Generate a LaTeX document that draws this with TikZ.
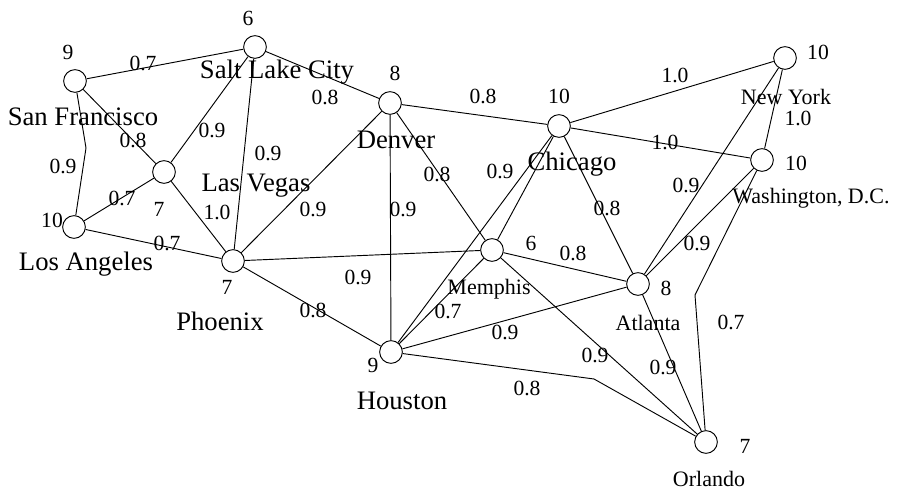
\documentclass[tikz,border=0pt]{standalone}
\usepackage{fontspec}
\setmainfont{Liberation Serif}
\begin{document}
\begin{tikzpicture}[x=0.75pt,y=-0.75pt,
  city/.style={circle,draw,line width=0.7pt,minimum size=17pt,inner sep=0pt},
  road/.style={line width=0.7pt},
  bigname/.style={inner sep=0pt,font=\fontsize{20}{22}\selectfont},
  smallname/.style={inner sep=0pt,font=\fontsize{16.5}{18}\selectfont},
  weight/.style={inner sep=0pt,font=\fontsize{16.2}{18}\selectfont},
  score/.style={inner sep=0pt,font=\fontsize{16.2}{18}\selectfont}]
\useasboundingbox (0,0) rectangle (897,491);

% cities
\node[city] (sf)  at (75,81)   {};
\node[city] (slc) at (255,47)  {};
\node[city] (lv)  at (164,172) {};
\node[city] (la)  at (74,227)  {};
\node[city] (phx) at (233,261) {};
\node[city] (den) at (390,103) {};
\node[city] (chi) at (559,126) {};
\node[city] (ny)  at (785,58)  {};
\node[city] (dc)  at (762,160) {};
\node[city] (mem) at (492,250) {};
\node[city] (atl) at (638,284) {};
\node[city] (hou) at (391,352) {};
\node[city] (orl) at (706,442) {};

% bend points of the routed roads
\coordinate (bsfla)  at (86,148);
\coordinate (bhouorl) at (594,379);
\coordinate (bdcorl) at (695,295);

% roads
\draw[road] (sf) -- (slc);
\draw[road] (sf) -- (lv);
\draw[road] (sf) -- (bsfla) -- (la);
\draw[road] (slc) -- (lv);
\draw[road] (slc) -- (phx);
\draw[road] (slc) -- (den);
\draw[road] (lv) -- (la);
\draw[road] (lv) -- (phx);
\draw[road] (la) -- (phx);
\draw[road] (phx) -- (den);
\draw[road] (phx) -- (mem);
\draw[road] (phx) -- (hou);
\draw[road] (den) -- (chi);
\draw[road] (den) -- (hou);
\draw[road] (den) -- (mem);
\draw[road] (chi) -- (ny);
\draw[road] (chi) -- (dc);
\draw[road] (chi) -- (hou);
\draw[road] (chi) -- (mem);
\draw[road] (chi) -- (atl);
\draw[road] (mem) -- (atl);
\draw[road] (mem) -- (orl);
\draw[road] (mem) -- (hou);
\draw[road] (hou) -- (atl);
\draw[road] (hou) -- (bhouorl) -- (orl);
\draw[road] (atl) -- (ny);
\draw[road] (atl) -- (dc);
\draw[road] (atl) -- (orl);
\draw[road] (dc) -- (ny);
\draw[road] (dc) -- (bdcorl) -- (orl);

% road weights
\node[weight] (w1)  at (143,63)  {0.7};
\node[weight] (w2)  at (133,140) {0.8};
\node[weight] (w3)  at (63,166)  {0.9};
\node[weight] (w4)  at (122,198) {0.7};
\node[weight] (w5)  at (167,243) {0.7};
\node[weight] (w6)  at (217,212) {1.0};
\node[weight] (w7)  at (212,130) {0.9};
\node[weight] (w8)  at (268,153) {0.9};
\node[weight] (w9)  at (325,97)  {0.8};
\node[weight] (w10) at (483,96)  {0.8};
\node[weight] (w11) at (437,174) {0.8};
\node[weight] (w12) at (500,171) {0.9};
\node[weight] (w13) at (313,209) {0.9};
\node[weight] (w14) at (403,209) {0.9};
\node[weight] (w15) at (358,277) {0.9};
\node[weight] (w16) at (313,310) {0.8};
\node[weight] (w17) at (448,311) {0.7};
\node[weight] (w18) at (505,332) {0.9};
\node[weight] (w19) at (527,388) {0.8};
\node[weight] (w20) at (573,253) {0.8};
\node[weight] (w21) at (595,355) {0.9};
\node[weight] (w22) at (663,367) {0.9};
\node[weight] (w23) at (731,322) {0.7};
\node[weight] (w24) at (697,243) {0.9};
\node[weight] (w25) at (686,185) {0.9};
\node[weight] (w26) at (607,208) {0.8};
\node[weight] (w27) at (675,75)  {1.0};
\node[weight] (w28) at (665,142) {1.0};
\node[weight] (w29) at (798,118) {1.0};

% city scores
\node[score] (s1)  at (68,52)   {9};
\node[score] (s2)  at (248,18)  {6};
\node[score] (s3)  at (159,209) {7};
\node[score] (s4)  at (52,220)  {10};
\node[score] (s5)  at (227,287) {7};
\node[score] (s6)  at (395,73)  {8};
\node[score] (s7)  at (559,96)  {10};
\node[score] (s8)  at (818,52)  {10};
\node[score] (s9)  at (796,163) {10};
\node[score] (s10) at (531,243) {6};
\node[score] (s11) at (666,288) {8};
\node[score] (s12) at (373,365) {9};
\node[score] (s13) at (745,446) {7};

% city names
\node[bigname] (n1) at (83,117)  {San Francisco};
\node[bigname] (n2) at (277,72)  {Salt Lake City};
\node[bigname] (n3) at (256,186) {Las Vegas};
\node[bigname] (n4) at (86,264)  {Los Angeles};
\node[bigname] (n5) at (220,321) {Phoenix};
\node[bigname] (n6) at (396,140) {Denver};
\node[bigname] (n7) at (572,164) {Chicago};
\node[bigname] (n8) at (402,401) {Houston};
\node[smallname] (n9)  at (786,97)  {New York};
\node[smallname] (n10) at (811,198) {Washington, D.C.};
\node[smallname] (n11) at (489,289) {Memphis};
\node[smallname] (n12) at (648,323) {Atlanta};
\node[smallname] (n13) at (709,479) {Orlando};
\end{tikzpicture}
\end{document}
